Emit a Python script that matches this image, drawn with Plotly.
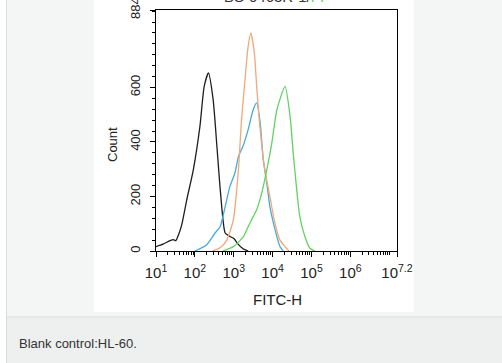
import numpy as np
import plotly.graph_objects as go

# ---- data (x as log10 of FITC-H, y as counts) ----
black_log = [1.00, 1.18, 1.36, 1.44, 1.51, 1.58, 1.66, 1.79, 1.96, 2.13, 2.24, 2.35, 2.47, 2.56, 2.66, 2.78, 2.88, 3.01, 3.11, 3.24, 3.37]
black_cnt = [16, 25, 38, 42, 38, 60, 95, 187, 298, 457, 604, 653, 555, 397, 213, 66, 55, 45, 25, 8, 0]

orange_log = [2.45, 2.65, 2.82, 2.99, 3.12, 3.20, 3.29, 3.37, 3.44, 3.53, 3.59, 3.68, 3.80, 3.93, 4.06, 4.19, 4.32, 4.42]
orange_cnt = [0, 12, 40, 114, 298, 481, 628, 750, 800, 727, 604, 445, 298, 200, 101, 40, 16, 0]

blue_log = [2.00, 2.30, 2.52, 2.65, 2.78, 2.90, 3.03, 3.12, 3.16, 3.25, 3.37, 3.50, 3.59, 3.68, 3.76, 3.85, 3.93, 4.02, 4.11, 4.19, 4.27]
blue_cnt = [0, 22, 66, 89, 163, 236, 286, 346, 360, 389, 445, 518, 543, 470, 334, 249, 163, 103, 53, 16, 0]

green_log = [2.72, 2.99, 3.25, 3.37, 3.50, 3.59, 3.72, 3.85, 3.98, 4.11, 4.32, 4.45, 4.53, 4.62, 4.70, 4.83, 4.96, 5.09]
green_cnt = [0, 16, 53, 89, 126, 151, 213, 298, 397, 518, 604, 493, 360, 224, 126, 53, 10, 0]

x_tick_exp = [1, 2, 3, 4, 5, 6, 7.2]
x_tick_text = ["10<sup>%s</sup>" % (str(e) if e % 1 else str(int(e))) for e in x_tick_exp]
y_tick_vals = [0, 200, 400, 600, 884]
caption = "Blank control:HL-60."

W, H = 502, 363
L, R, T, B = 156, 397, 10, 251


def fx(px):
    return (px - L) / (R - L)


def fy(py):
    return (B - py) / (B - T)


FONT = "Liberation Sans, Arial, sans-serif"

fig = go.Figure()
series = [
    (black_log, black_cnt, "#1e1e1e"),
    (blue_log, blue_cnt, "#45acd8"),
    (orange_log, orange_cnt, "#f2a878"),
    (green_log, green_cnt, "#62d262"),
]
for lg, cnt, col in series:
    fig.add_trace(go.Scatter(x=10 ** np.array(lg), y=cnt, mode="lines",
                             line=dict(color=col, width=1.3, shape="spline", smoothing=0.6),
                             showlegend=False, hoverinfo="skip"))

minor_x = [m * 10 ** k for k in range(1, 7) for m in range(2, 10)] + [1e7]

shapes = [
    dict(type="rect", xref="paper", yref="paper", x0=fx(0), x1=fx(6), y0=fy(363), y1=fy(0),
         fillcolor="white", line_width=0, layer="below"),
    dict(type="line", xref="paper", yref="paper", x0=fx(6.5), x1=fx(6.5), y0=fy(363), y1=fy(0),
         line=dict(color="#d9dcdc", width=1), layer="below"),
    dict(type="rect", xref="paper", yref="paper", x0=fx(94), x1=fx(414), y0=fy(312), y1=fy(0),
         fillcolor="white", line_width=0, layer="below"),
    dict(type="rect", xref="paper", yref="paper", x0=fx(7), x1=fx(502), y0=fy(363), y1=fy(317),
         fillcolor="#eeefef", line_width=0, layer="below"),
    dict(type="line", xref="paper", yref="paper", x0=fx(7), x1=fx(502), y0=fy(317), y1=fy(317),
         line=dict(color="#dcdede", width=1), layer="below"),
]

annotations = [
    dict(text="Count", xref="paper", yref="paper", x=fx(112), y=fy(145), showarrow=False,
         xanchor="center", yanchor="middle",
         textangle=-90, font=dict(family=FONT, size=13, color="#222")),
    dict(text="FITC-H", xref="paper", yref="paper", x=fx(277), y=fy(299), showarrow=False,
         xanchor="center", yanchor="middle",
         font=dict(family=FONT, size=15, color="#222")),
    dict(text="BS-0463R-1/<span style='color:#62d262'>FI</span>", xref="paper", yref="paper",
         x=fx(274), y=fy(-3), showarrow=False, xanchor="center", yanchor="middle",
         font=dict(family=FONT, size=15, color="#333")),
    dict(text=caption, xref="paper", yref="paper", x=fx(17), y=fy(343), xanchor="left",
         yanchor="middle", showarrow=False, font=dict(family=FONT, size=13, color="#333")),
]

fig.update_layout(
    width=W, height=H,
    margin=dict(l=L, r=W - R, t=T, b=H - B, pad=0, autoexpand=False),
    paper_bgcolor="#f4f6f6", plot_bgcolor="white",
    shapes=shapes, annotations=annotations,
    xaxis=dict(type="log", range=[1, 7.2], tickvals=[10 ** e for e in x_tick_exp],
               ticktext=x_tick_text, ticks="outside", ticklen=5, tickcolor="black",
               tickangle=0, ticklabeloverflow="allow", automargin=False,
               ticklabelstandoff=3,
               showline=True, linecolor="black", linewidth=1, mirror=True,
               showgrid=False, zeroline=False,
               tickfont=dict(family=FONT, size=15, color="#222"),
               minor=dict(tickvals=minor_x, ticks="outside", ticklen=3, tickcolor="black",
                          showgrid=False)),
    yaxis=dict(range=[0, 884], tickvals=y_tick_vals, ticks="outside", ticklen=5,
               tickcolor="black", tickangle=-90, ticklabeloverflow="allow", automargin=False,
               ticklabelstandoff=5,
               showline=True, linecolor="black", linewidth=1, mirror=True,
               showgrid=False, zeroline=False,
               tickfont=dict(family=FONT, size=13, color="#222"),
               minor=dict(dtick=40, tick0=0, ticks="outside", ticklen=3, tickcolor="black",
                          showgrid=False)),
)

fig.write_html(
    "out.html",
    config={"displayModeBar": False},
    post_script="document.body.style.margin='0';document.body.style.overflow='hidden';",
)
